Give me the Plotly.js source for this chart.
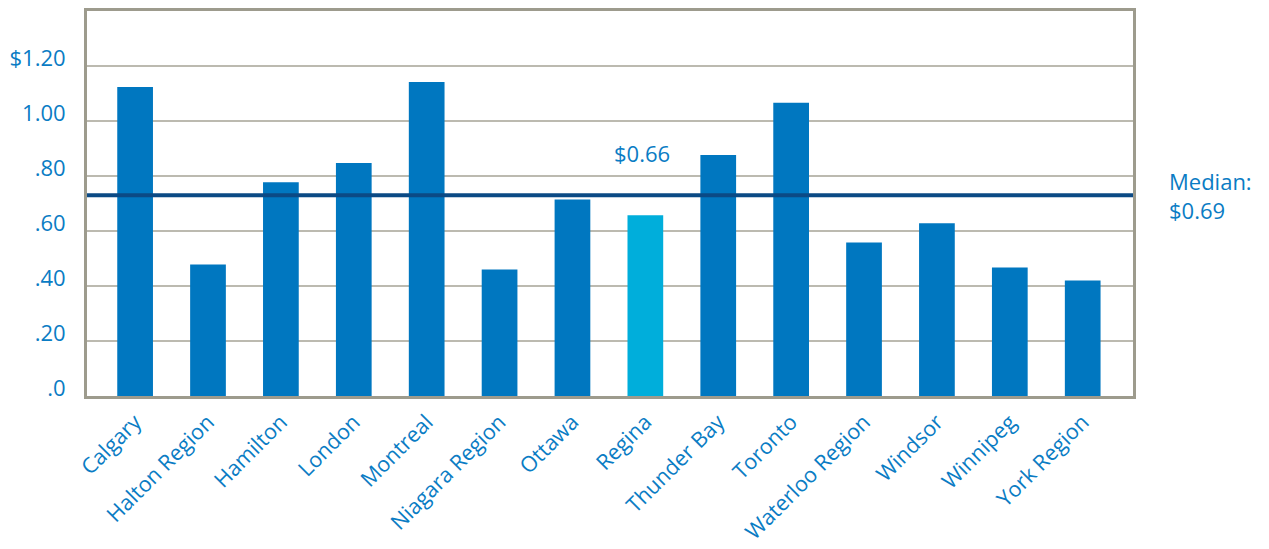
<!DOCTYPE html>
<html><head><meta charset="utf-8">
<script src="https://cdn.plot.ly/plotly-3.0.1.min.js"></script>
<style>html,body{margin:0;padding:0;background:#fff}#chart{width:1269px;height:549px}</style>
</head><body><div id="chart"></div>
<script>
const categories = ["Calgary","Halton Region","Hamilton","London","Montreal","Niagara Region","Ottawa","Regina","Thunder Bay","Toronto","Waterloo Region","Windsor","Winnipeg","York Region"];
const values = [1.124, 0.478, 0.777, 0.847, 1.142, 0.46, 0.715, 0.657, 0.876, 1.066, 0.558, 0.628, 0.467, 0.42];
const highlight = "Regina";
const highlightLabel = "$0.66";
const medianValue = 0.73;
const medianLabel = "Median:<br>$0.69";
const yTickVals = [0, 0.2, 0.4, 0.6, 0.8, 1.0, 1.2];
const yTickText = [".0", ".20", ".40", ".60", ".80", "1.00", "$1.20"];

const blue = "#0077c0", light = "#00aedb", textBlue = "#0a7cc4";
const colors = categories.map(c => c === highlight ? light : blue);
const hiIdx = categories.indexOf(highlight);
const fam = "Open Sans, sans-serif";

Plotly.newPlot("chart", [{
  type: "bar", x: categories, y: values, marker: {color: colors}, width: 0.49, hoverinfo: "x+y"
}], {
  width: 1269, height: 549,
  margin: {l: 87, r: 136, t: 11, b: 153},
  paper_bgcolor: "#fff", plot_bgcolor: "#fff",
  showlegend: false,
  font: {family: fam, color: textBlue},
  xaxis: {
    range: [-0.66, 13.69], tickangle: -45, tickfont: {size: 21.5, color: textBlue, family: fam},
    ticks: "outside", ticklen: 2, tickcolor: "rgba(0,0,0,0)",
    showline: true, mirror: true, linecolor: "#9d9b8d", linewidth: 3, showgrid: false, fixedrange: true
  },
  yaxis: {
    range: [0, 1.4], tickvals: yTickVals, ticktext: yTickText,
    tickfont: {size: 22, color: textBlue, family: fam},
    ticks: "outside", ticklen: 14, tickcolor: "rgba(0,0,0,0)", ticklabelshift: -8,
    showline: true, mirror: true, linecolor: "#9d9b8d", linewidth: 3,
    gridcolor: "#bcbab0", gridwidth: 1.5, zeroline: false, fixedrange: true
  },
  shapes: [{type: "line", xref: "paper", x0: 0, x1: 1, yref: "y", y0: medianValue, y1: medianValue,
    line: {color: "#0b4a85", width: 4}}],
  annotations: [
    {x: categories[hiIdx], y: values[hiIdx], yshift: 62, text: highlightLabel, showarrow: false, xanchor: "right", xshift: 27,
     font: {size: 22, color: textBlue, family: fam}},
    {xref: "paper", x: 1, xshift: 34, y: medianValue, yshift: 0, text: medianLabel, showarrow: false, xanchor: "left", align: "left",
     font: {size: 22, color: textBlue, family: fam}}
  ]
}, {displayModeBar: false});
</script></body></html>
